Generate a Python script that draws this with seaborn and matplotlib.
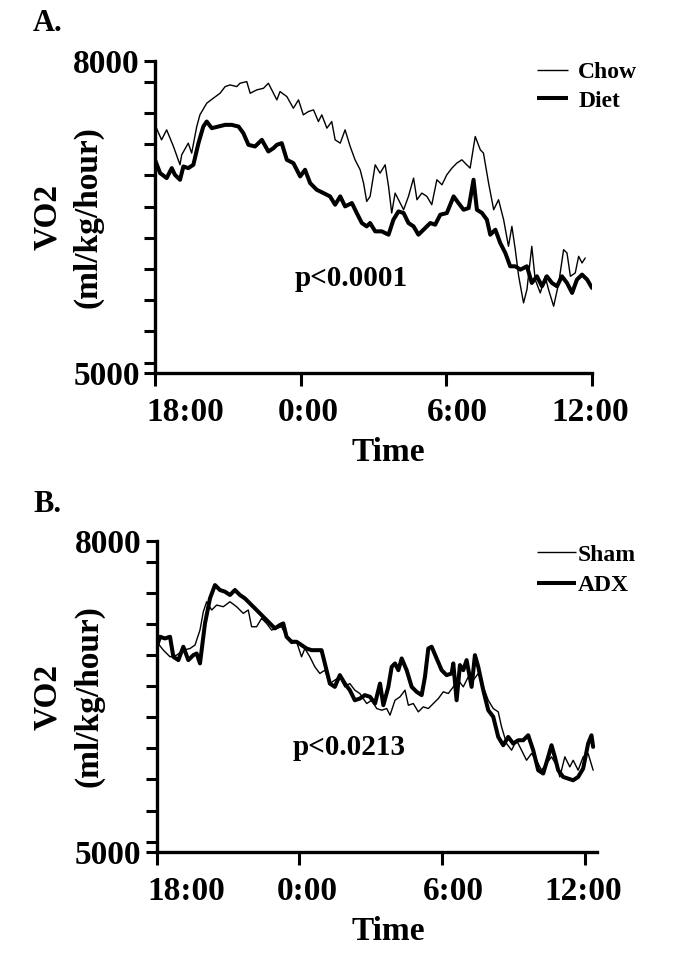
import numpy as np
import pandas as pd
import seaborn as sns
import matplotlib.pyplot as plt
import matplotlib.transforms as mtransforms
from matplotlib.ticker import MultipleLocator, FixedLocator

# panel A - hours after 18:00 / VO2
chow_h = [0, 0.27, 0.48, 0.76, 1.03, 1.1, 1.37, 1.51, 1.72, 1.85, 2.13, 2.40, 2.68, 2.89, 3.09, 3.37,
          3.50, 3.78, 3.92, 4.19, 4.47, 4.67, 4.88, 5.02, 5.15, 5.43, 5.70, 5.91, 6.11, 6.32, 6.53,
          6.73, 6.87, 7.08, 7.28, 7.42, 7.63, 7.83, 8.04, 8.24, 8.45, 8.59, 8.72, 8.86, 9.07, 9.27,
          9.48, 9.62, 9.75, 9.89, 10.10, 10.24, 10.44, 10.65, 10.79, 10.99, 11.20, 11.40, 11.61,
          11.82, 12.02, 12.23, 12.43, 12.64, 12.84, 12.98, 13.19, 13.40, 13.53, 13.74, 13.95, 14.15,
          14.36, 14.56, 14.70, 14.84, 14.98, 15.18, 15.32, 15.52, 15.66, 15.87, 16.07, 16.21, 16.42,
          16.63, 16.83, 16.97, 17.11, 17.31, 17.45, 17.59, 17.72]
chow_v = [7386, 7242, 7338, 7178, 7002, 7098, 7210, 7114, 7370, 7482, 7594, 7642, 7690, 7754, 7770, 7754,
          7786, 7802, 7690, 7722, 7738, 7786, 7690, 7626, 7706, 7658, 7546, 7626, 7482, 7514, 7530,
          7418, 7482, 7354, 7418, 7242, 7210, 7338, 7178, 7050, 6954, 6826, 6650, 6698, 7002, 6922,
          7002, 6794, 6538, 6730, 6634, 6570, 6698, 6874, 6666, 6730, 6698, 6618, 6858,
          6810, 6906, 6970, 7018, 7050, 7002, 6970, 7274, 7146, 7114, 6826, 6570, 6666,
          6474, 6218, 6410, 6186, 5930, 5674, 5802, 6218, 5898, 5770, 5930, 5802, 5642,
          5866, 6186, 6154, 5930, 5962, 6122, 6058, 6106]

diet_h = [0, 0.21, 0.48, 0.69, 0.82, 1.03, 1.17, 1.37, 1.58, 1.79, 1.99, 2.13, 2.34, 2.61, 2.89, 3.16,
          3.44, 3.64, 3.85, 4.12, 4.40, 4.67, 4.88, 5.02, 5.22, 5.43, 5.70, 5.98, 6.18, 6.39, 6.66,
          6.94, 7.21, 7.42, 7.63, 7.83, 8.11, 8.31, 8.52, 8.72, 8.86, 9.07, 9.34, 9.62, 9.82, 10.03,
          10.24, 10.44, 10.65, 10.85, 11.06, 11.34, 11.54, 11.75, 12.02, 12.30, 12.50, 12.71, 12.92,
          13.12, 13.26, 13.47, 13.67, 13.81, 14.02, 14.22, 14.43, 14.63, 14.84, 15.05, 15.32, 15.52,
          15.73, 15.94, 16.14, 16.35, 16.56, 16.76, 16.97, 17.18, 17.38, 17.59, 17.80, 18.0]
diet_v = [7050, 6922, 6874, 6970, 6906, 6858, 6986, 6970, 7002, 7210, 7370, 7418, 7354, 7370, 7386, 7386,
          7370, 7306, 7194, 7178, 7242, 7130, 7162, 7194, 7210, 7050, 7018, 6890, 6954, 6826, 6762,
          6730, 6698, 6618, 6698, 6602, 6634, 6538, 6442, 6410, 6442, 6362, 6362, 6330, 6474, 6554,
          6538, 6442, 6410, 6330, 6378, 6442, 6426, 6522, 6538, 6698, 6634, 6570, 6586,
          6858, 6570, 6538, 6474, 6330, 6378, 6250, 6154, 6026, 6026, 5994, 6026, 5866,
          5930, 5834, 5930, 5866, 5834, 5930, 5866, 5770, 5898, 5946, 5898, 5818]

# panel B
sham_h = [0, 0.28, 0.56, 0.84, 1.12, 1.40, 1.61, 1.82, 1.96, 2.10, 2.31, 2.52, 2.80, 3.08, 3.36, 3.64,
          3.85, 3.99, 4.20, 4.41, 4.62, 4.83, 5.04, 5.25, 5.46, 5.67, 5.88, 6.09, 6.23, 6.44, 6.65,
          6.86, 7.07, 7.28, 7.49, 7.70, 7.91, 8.12, 8.33, 8.54, 8.83, 9.04, 9.25, 9.46, 9.67, 9.81,
          10.02, 10.23, 10.44, 10.58, 10.79, 11.00, 11.21, 11.42, 11.63, 11.84, 12.05, 12.26, 12.47,
          12.68, 12.89, 13.10, 13.31, 13.52, 13.73, 13.94, 14.15, 14.36, 14.50, 14.71, 14.92, 15.13,
          15.34, 15.55, 15.76, 15.97, 16.18, 16.39, 16.60, 16.81, 16.95, 17.16, 17.37, 17.51, 17.72,
          17.93, 18.14, 18.35]
sham_v = [7028, 6947, 6883, 6899, 6947, 6963, 6996, 7141, 7318, 7414, 7334, 7382, 7366, 7414, 7366, 7302,
          7334, 7173, 7173, 7253, 7205, 7141, 7157, 7173, 7076, 7012, 7028, 6883, 6963, 6883, 6786,
          6722, 6754, 6625, 6658, 6690, 6593, 6625, 6561, 6529, 6432, 6464, 6384, 6368, 6384, 6320,
          6464, 6497, 6561, 6416, 6432, 6352, 6400, 6384, 6432, 6480, 6545, 6529, 6593,
          6658, 6593, 6690, 6658, 6722, 6593, 6464, 6384, 6352, 6207, 6046, 5982, 6078,
          5982, 5885, 5950, 5885, 5789, 5853, 5918, 5837, 5724, 5918, 5821, 5885, 5789,
          5918, 5950, 5789]

adx_h = [0, 0.14, 0.35, 0.56, 0.70, 0.91, 1.12, 1.33, 1.54, 1.68, 1.82, 2.03, 2.24, 2.45, 2.66, 2.87,
         3.08, 3.29, 3.50, 3.71, 3.92, 4.13, 4.34, 4.55, 4.76, 4.97, 5.18, 5.32, 5.46, 5.67, 5.88,
         6.09, 6.30, 6.51, 6.72, 6.93, 7.07, 7.28, 7.49, 7.70, 7.91, 8.12, 8.33, 8.54, 8.75, 8.97,
         9.18, 9.39, 9.53, 9.74, 9.88, 10.02, 10.16, 10.30, 10.51, 10.72, 10.93, 11.14, 11.28, 11.42,
         11.56, 11.77, 11.98, 12.19, 12.40, 12.47, 12.61, 12.75, 12.89, 13.03, 13.24, 13.38, 13.52,
         13.73, 13.94, 14.15, 14.36, 14.57, 14.78, 14.99, 15.20, 15.41, 15.62, 15.83, 16.04, 16.25,
         16.46, 16.60, 16.74, 16.88, 17.09, 17.30, 17.51, 17.72, 17.93, 18.14, 18.28, 18.35]
adx_v = [6980, 7076, 7060, 7076, 6883, 6851, 6980, 6851, 6899, 6915, 6819, 7205, 7446, 7575, 7527, 7511,
         7479, 7527, 7479, 7446, 7398, 7350, 7302, 7253, 7205, 7157, 7189, 7205, 7076, 7028, 7028,
         6996, 6963, 6947, 6947, 6947, 6819, 6625, 6593, 6706, 6625, 6561, 6464, 6480, 6513, 6497,
         6432, 6625, 6416, 6593, 6786, 6819, 6754, 6867, 6754, 6593, 6545, 6513, 6690, 6963,
         6980, 6867, 6754, 6706, 6722, 6819, 6464, 6803, 6754, 6851, 6593, 6899, 6786,
         6561, 6368, 6304, 6110, 6030, 6110, 6046, 6078, 6078, 6126, 5982, 5789, 5757,
         5918, 6030, 5918, 5789, 5724, 5708, 5692, 5724, 5805, 6046, 6126, 6014]

tick_hours = [0, 6, 12, 18]
tick_labels = ['18:00', '0:00', '6:00', '12:00']

sns.set_style("ticks")
plt.rcParams['font.family'] = ['Liberation Serif', 'DejaVu Serif']
plt.rcParams['font.weight'] = 'bold'
for k in ['text.color', 'axes.labelcolor', 'xtick.color', 'ytick.color', 'axes.edgecolor']:
    plt.rcParams[k] = 'black'

fig = plt.figure(figsize=(6.85, 9.55), dpi=100)
axA = fig.add_axes([155/685, 1-373/955, (592-155)/685, 312/955])
axB = fig.add_axes([156.7/685, 1-852/955, (596.7-156.7)/685, 311/955])

# the original x labels sit a little to the right of their ticks (pixels)
label_shift = [30, 8, 11, -2]


def panel(ax, h1, v1, n1, h2, v2, n2, xmax, ptext, py, letter, leg_x, leg_y, lsp, hlen, hpad):
    sns.lineplot(x=h1, y=v1, ax=ax, color='black', linewidth=1.0, label=n1)
    sns.lineplot(x=h2, y=v2, ax=ax, color='black', linewidth=2.9, label=n2)
    ax.set_xlim(0, xmax)
    ax.set_ylim(5000, 8000)
    ax.yaxis.set_major_locator(FixedLocator([5000, 8000]))
    ax.yaxis.set_minor_locator(MultipleLocator(300))
    ax.set_xticks(tick_hours)
    ax.set_xticklabels(tick_labels)
    ax.tick_params(axis='both', which='major', labelsize=24, width=2.2, length=8, direction='out')
    ax.tick_params(axis='y', which='minor', width=2.2, length=8, direction='out')
    ax.tick_params(axis='x', which='major', length=9, pad=8)
    ax.tick_params(axis='y', which='major', pad=3)
    for lab in ax.get_xticklabels() + ax.get_yticklabels():
        lab.set_fontweight('bold')
    for lab, dx in zip(ax.get_xticklabels(), label_shift):
        lab.set_transform(lab.get_transform() +
                          mtransforms.ScaledTranslation(dx / 100, 0, fig.dpi_scale_trans))
    for s in ['top', 'right']:
        ax.spines[s].set_visible(False)
    for s in ['left', 'bottom']:
        ax.spines[s].set_linewidth(2.4)
    w = ax.get_position().width * 685
    h = ax.get_position().height * 955
    left = ax.get_position().x0 * 685
    ax.set_xlabel('Time', fontsize=24, fontweight='bold')
    ax.xaxis.set_label_coords((388 - left) / w, -64 / h)
    ax.set_ylabel('VO2\n(ml/kg/hour)', fontsize=24, fontweight='bold', linespacing=1.4)
    ax.yaxis.set_label_coords((104 - left) / w, 0.5)
    ax.text(8.1, py, ptext, fontsize=21, fontweight='bold', ha='center', va='center')
    ax.text((33 - left) / w, 1 + 37 / h, letter, transform=ax.transAxes, fontsize=22,
            fontweight='bold', ha='left', va='center')
    leg = ax.legend(loc='upper left', bbox_to_anchor=(leg_x, leg_y), frameon=False,
                    prop={'size': 17, 'weight': 'bold'}, handlelength=hlen,
                    handletextpad=hpad, labelspacing=lsp, borderpad=0, borderaxespad=0)
    for line in leg.get_lines():
        line.set_solid_capstyle('butt')


panel(axA, chow_h, chow_v, 'Chow', diet_h, diet_v, 'Diet', 18, 'p<0.0001', 5910, 'A.',
      0.874, 0.998, 0.3, 1.3, 0.45)
panel(axB, sham_h, sham_v, 'Sham', adx_h, adx_v, 'ADX', 18.5, 'p<0.0213', 6010, 'B.',
      0.864, 0.99, 0.38, 1.65, 0.1)

fig.savefig('out.png', dpi=100)
